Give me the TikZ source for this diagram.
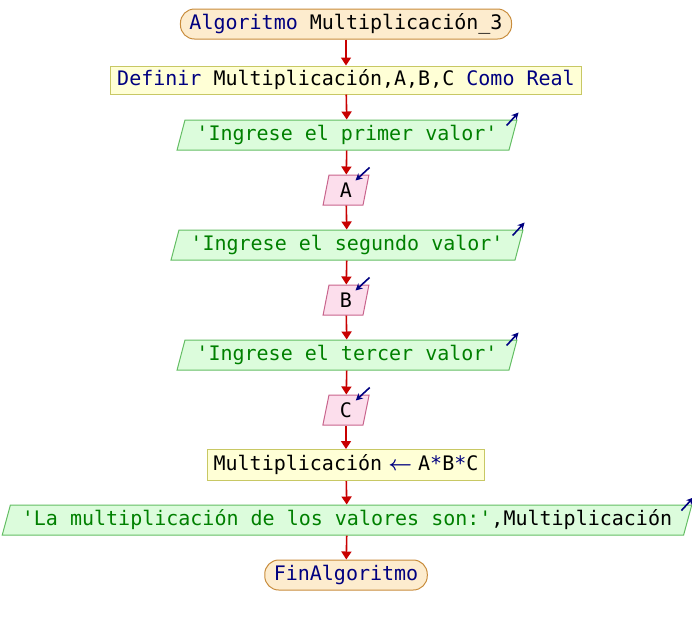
\documentclass[tikz,border=0pt]{standalone}
\usepackage{fontspec}
\setmonofont{DejaVu Sans Mono}
\usetikzlibrary{shapes.geometric,arrows.meta}

\definecolor{kwblue}{RGB}{0,0,128}
\definecolor{strgreen}{RGB}{0,128,0}
\definecolor{flowred}{RGB}{200,0,0}
\definecolor{startfill}{RGB}{253,236,206}
\definecolor{startborder}{RGB}{200,140,60}
\definecolor{procfill}{RGB}{255,255,214}
\definecolor{procborder}{RGB}{200,200,100}
\definecolor{outfill}{RGB}{220,252,220}
\definecolor{outborder}{RGB}{100,190,100}
\definecolor{infill}{RGB}{252,222,236}
\definecolor{inborder}{RGB}{200,100,140}

\newcommand{\kw}[1]{\textcolor{kwblue}{#1}}
\newcommand{\txtstr}[1]{\textcolor{strgreen}{#1}}
\newcommand{\asigna}{\makebox[36pt]{\kw{$\boldsymbol{\leftarrow}$}}}

\usepackage{amsmath,bm}

\begin{document}
\begin{tikzpicture}[x=1pt,y=-1pt,
    font=\ttfamily\fontsize{20}{24}\selectfont,
    inicio/.style={draw=startborder, fill=startfill, line width=1pt, rounded corners=14pt, minimum height=30pt, inner xsep=9pt, inner ysep=0pt},
    proceso/.style={rectangle, draw=procborder, fill=procfill, line width=1pt, minimum height=28pt, inner xsep=6.5pt, inner ysep=0pt},
    salida/.style={trapezium, trapezium left angle=68, trapezium right angle=112, trapezium stretches=true, draw=outborder, fill=outfill, line width=1pt, minimum height=30pt, inner xsep=11.5pt, inner ysep=0pt},
    entrada/.style={salida, draw=inborder, fill=infill, inner xsep=11pt},
    flecha/.style={draw=flowred, line width=1.6pt, -{Triangle[length=8pt,width=10pt]}},
    icono/.style={draw=kwblue, line width=1.6pt, -{Stealth[length=7pt,width=7pt]}}]
  \useasboundingbox (0,0) rectangle (692,625);

  % Nodes
  \node[inicio] (inicio) at (346,24) {\kw{Algoritmo} Multiplicación\textunderscore 3};
  \node[proceso] (definir) at (346,80) {\kw{Definir} Multiplicación,A,B,C \kw{Como Real}};
  \node[salida] (msj1) at (347,135) {\txtstr{'Ingrese el primer valor'}};
  \node[entrada] (leerA) at (346,190) {A};
  \node[salida] (msj2) at (347,245) {\txtstr{'Ingrese el segundo valor'}};
  \node[entrada] (leerB) at (346,300) {B};
  \node[salida] (msj3) at (347,355) {\txtstr{'Ingrese el tercer valor'}};
  \node[entrada] (leerC) at (346,410) {C};
  \node[proceso, minimum height=31pt] (asignar) at (346,465) {Multiplicación\asigna A\kw{*}B\kw{*}C};
  \node[salida] (mostrar) at (347,520) {\txtstr{'La multiplicación de los valores son:'},Multiplicación};
  \node[inicio] (fin) at (346,575) {\kw{FinAlgoritmo}};

  % Flow
  \draw[flecha] (inicio) -- (definir);
  \draw[flecha] (definir) -- (msj1);
  \draw[flecha] (msj1) -- (leerA);
  \draw[flecha] (leerA) -- (msj2);
  \draw[flecha] (msj2) -- (leerB);
  \draw[flecha] (leerB) -- (msj3);
  \draw[flecha] (msj3) -- (leerC);
  \draw[flecha] (leerC) -- (asignar);
  \draw[flecha] (asignar) -- (mostrar);
  \draw[flecha] (mostrar) -- (fin);

  % Output marks
  \draw[icono] ([shift={(-11,6)}]msj1.top right corner) -- ([shift={(1,-7)}]msj1.top right corner);
  \draw[icono] ([shift={(-11,6)}]msj2.top right corner) -- ([shift={(1,-7)}]msj2.top right corner);
  \draw[icono] ([shift={(-11,6)}]msj3.top right corner) -- ([shift={(1,-7)}]msj3.top right corner);
  \draw[icono] ([shift={(-11,6)}]mostrar.top right corner) -- ([shift={(1,-7)}]mostrar.top right corner);
  % Input marks
  \draw[icono] ([shift={(0,-7)}]leerA.top right corner) -- ([shift={(-14,6)}]leerA.top right corner);
  \draw[icono] ([shift={(0,-7)}]leerB.top right corner) -- ([shift={(-14,6)}]leerB.top right corner);
  \draw[icono] ([shift={(0,-7)}]leerC.top right corner) -- ([shift={(-14,6)}]leerC.top right corner);
\end{tikzpicture}
\end{document}
